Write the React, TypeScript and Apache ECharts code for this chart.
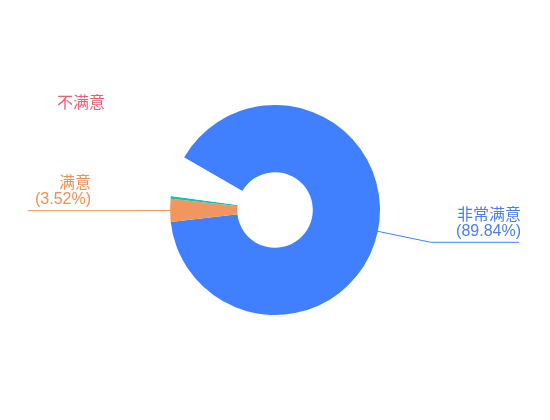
import React, { useEffect, useRef } from 'react';
import * as echarts from 'echarts';

const names = ['非常满意', '满意', '一般', '不满意'];
const values = [89.84, 3.52, 0.45, 6.19];
const colors = ['#4080ff', '#f0965e', '#14c2b4', '#ffffff'];
const labelColors = ['#4a7fe6', '#ef8f55', '#14c2b4', '#e8606e'];

const App = () => {
  const chartRef = useRef(null);

  useEffect(() => {
    if (!chartRef.current) return;
    const chart = echarts.init(chartRef.current, null, { renderer: 'svg' });

    const data = names.map((name, i) => ({
      name,
      value: values[i],
      itemStyle: { color: colors[i] },
      label: {
        show: i !== 2,
        color: labelColors[i],
        formatter: i === 3 ? '{b}' : '{b}\n({d}%)',
      },
      labelLine: { show: i < 2 },
    }));

    const option = {
      animation: false,
      series: [
        {
          type: 'pie',
          center: ['50%', '50%'],
          radius: ['18%', '50%'],
          startAngle: 150,
          avoidLabelOverlap: false,
          label: {
            show: true,
            position: 'outside',
            fontSize: 16,
            lineHeight: 16,
            fontFamily: '"Liberation Sans", "Noto Sans CJK SC", sans-serif',
          },
          labelLine: {
            show: true,
            length: 54,
            length2: 0,
            lineStyle: { width: 1 },
          },
          labelLayout: (params: any) => {
            if (params.dataIndex === 3) {
              return { x: 105, y: 110, align: 'right', verticalAlign: 'bottom' };
            }
            const pts = params.labelLinePoints;
            if (!pts) return {};
            const isLeft = pts[1][0] < chart.getWidth() / 2;
            const endX = isLeft ? 28 : chart.getWidth() - 31;
            const lineY = pts[1][1];
            pts[2] = [endX, lineY];
            return {
              // text block sits above the line end, lines right-aligned
              x: isLeft ? endX + 63 : endX + 2,
              y: lineY - 4,
              align: 'right',
              verticalAlign: 'bottom',
              labelLinePoints: pts,
            };
          },
          data,
        },
      ],
    };

    chart.setOption(option);

    const resizeHandler = () => chart.resize();
    window.addEventListener('resize', resizeHandler);

    return () => {
      window.removeEventListener('resize', resizeHandler);
      chart.dispose();
    };
  }, []);

  return (
    <div
      ref={chartRef}
      style={{ position: 'fixed', left: 0, top: 0, width: '550px', height: '420px' }}
    />
  );
};

export default App;
